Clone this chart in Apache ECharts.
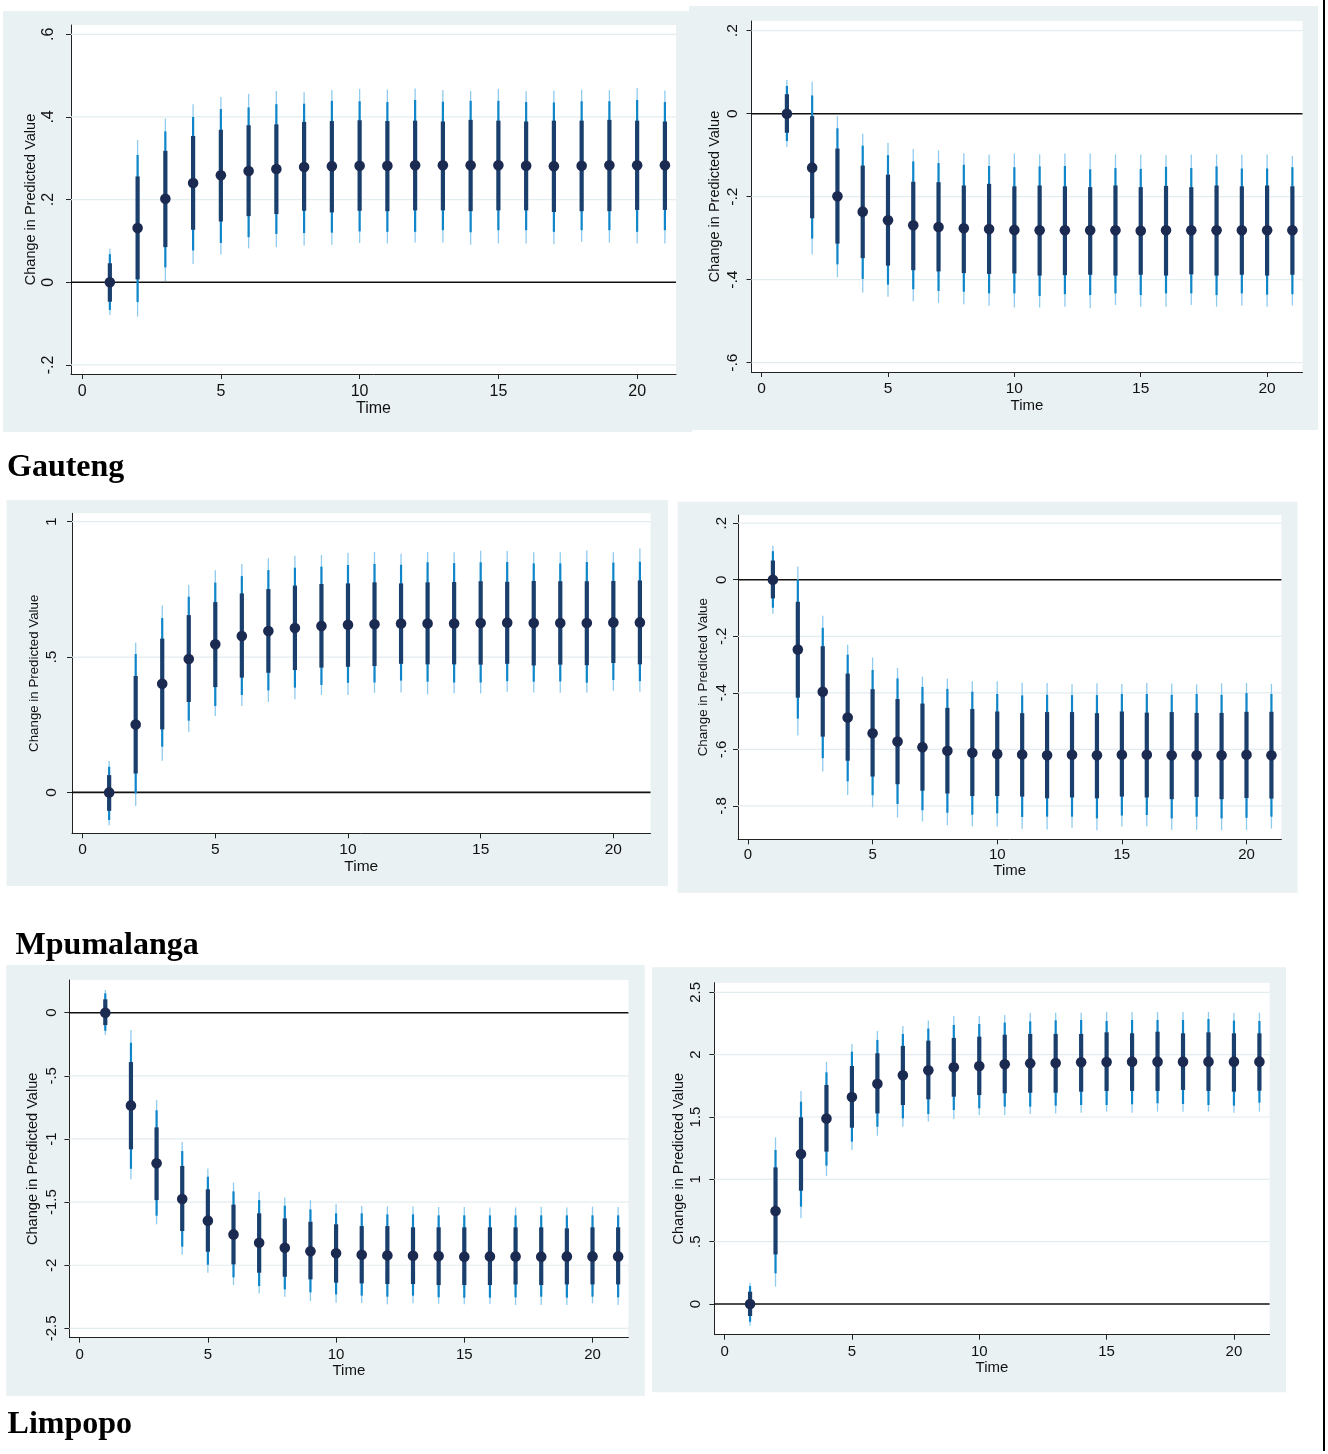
<!DOCTYPE html>
<html>
<head>
<meta charset="utf-8">
<script src="https://cdn.jsdelivr.net/npm/echarts@6/dist/echarts.min.js"></script>
<style>
html,body{margin:0;padding:0;background:#fff;}
#chart{width:1328px;height:1454px;}
</style>
</head>
<body>
<div id="chart"></div>
<script>
// ---------- data ----------
const periods = [1,2,3,4,5,6,7,8,9,10,11,12,13,14,15,16,17,18,19,20,21];
const xTicks = [0,5,10,15,20];

// Gauteng, left panel
const gautengLeftEst = [0,.131,.202,.240,.259,.269,.274,.279,.281,.282,.282,.283,.283,.283,.283,.282,.281,.282,.283,.283,.283];
const gautengLeftInner = [[-.047,.046],[.007,.256],[.085,.318],[.127,.354],[.147,.369],[.160,.380],[.165,.382],[.173,.388],[.169,.390],[.173,.392],[.172,.390],[.174,.391],[.174,.389],[.172,.393],[.174,.391],[.174,.389],[.170,.391],[.172,.391],[.172,.393],[.175,.391],[.175,.389]];
const gautengLeftMid = [[-.067,.068],[-.048,.308],[.036,.365],[.077,.400],[.095,.419],[.109,.423],[.117,.431],[.119,.432],[.120,.439],[.123,.438],[.122,.436],[.122,.441],[.126,.437],[.121,.439],[.126,.439],[.126,.436],[.122,.435],[.126,.438],[.126,.438],[.122,.441],[.126,.436]];
const gautengLeftOuter = [[-.079,.081],[-.083,.344],[.003,.396],[.044,.431],[.067,.448],[.082,.456],[.085,.463],[.089,.460],[.091,.465],[.095,.468],[.094,.466],[.096,.469],[.096,.465],[.091,.463],[.094,.468],[.094,.462],[.092,.464],[.098,.466],[.096,.465],[.094,.470],[.094,.464]];
const gautengLeftTicks = [-0.2,0,0.2,0.4,0.6];

// Gauteng, right panel
const gautengRightEst = [0,-.130,-.199,-.236,-.257,-.269,-.273,-.276,-.278,-.280,-.281,-.281,-.281,-.281,-.282,-.281,-.281,-.281,-.281,-.281,-.281];
const gautengRightInner = [[-.046,.047],[-.252,-.006],[-.313,-.084],[-.348,-.125],[-.366,-.147],[-.377,-.164],[-.380,-.165],[-.384,-.173],[-.386,-.169],[-.385,-.175],[-.390,-.173],[-.389,-.175],[-.388,-.177],[-.390,-.173],[-.388,-.177],[-.390,-.174],[-.387,-.177],[-.390,-.173],[-.388,-.175],[-.390,-.173],[-.388,-.175]];
const gautengRightMid = [[-.066,.067],[-.301,.044],[-.363,-.035],[-.398,-.077],[-.412,-.100],[-.423,-.115],[-.427,-.119],[-.429,-.123],[-.433,-.126],[-.433,-.129],[-.439,-.127],[-.435,-.126],[-.437,-.134],[-.433,-.131],[-.437,-.133],[-.433,-.128],[-.433,-.131],[-.437,-.127],[-.433,-.132],[-.436,-.132],[-.435,-.129]];
const gautengRightOuter = [[-.080,.081],[-.339,.077],[-.394,-.006],[-.431,-.048],[-.441,-.070],[-.452,-.085],[-.456,-.088],[-.459,-.095],[-.463,-.098],[-.467,-.096],[-.467,-.098],[-.465,-.096],[-.469,-.096],[-.461,-.098],[-.465,-.098],[-.465,-.100],[-.461,-.098],[-.465,-.098],[-.462,-.098],[-.465,-.098],[-.462,-.102]];
const gautengRightTicks = [-0.6,-0.4,-0.2,0,0.2];

// Mpumalanga, left panel
const mpumalangaLeftEst = [0,.251,.401,.493,.547,.578,.596,.607,.615,.619,.621,.624,.624,.624,.626,.627,.626,.626,.626,.628,.628];
const mpumalangaLeftInner = [[-.068,.064],[.070,.430],[.233,.568],[.334,.655],[.389,.703],[.424,.735],[.442,.751],[.452,.764],[.461,.770],[.464,.772],[.467,.776],[.475,.772],[.473,.776],[.473,.777],[.472,.780],[.475,.778],[.469,.781],[.472,.780],[.470,.780],[.478,.781],[.473,.783]];
const mpumalangaLeftMid = [[-.102,.095],[-.004,.511],[.169,.644],[.265,.723],[.319,.775],[.360,.799],[.377,.821],[.387,.830],[.397,.834],[.405,.840],[.406,.844],[.413,.841],[.409,.850],[.406,.847],[.406,.850],[.411,.851],[.409,.846],[.410,.846],[.405,.851],[.415,.849],[.411,.852]];
const mpumalangaLeftOuter = [[-.121,.116],[-.050,.553],[.117,.690],[.223,.766],[.282,.821],[.319,.844],[.334,.865],[.344,.874],[.360,.877],[.360,.885],[.368,.888],[.369,.882],[.362,.888],[.366,.887],[.365,.893],[.372,.892],[.369,.887],[.368,.887],[.368,.894],[.376,.887],[.372,.901]];
const mpumalangaLeftTicks = [0,0.5,1];

// Mpumalanga, right panel
const mpumalangaRightEst = [0,-.247,-.396,-.487,-.543,-.572,-.592,-.605,-.612,-.616,-.618,-.621,-.619,-.621,-.619,-.619,-.621,-.621,-.621,-.619,-.621];
const mpumalangaRightInner = [[-.066,.068],[-.417,-.078],[-.555,-.235],[-.640,-.332],[-.696,-.387],[-.723,-.422],[-.746,-.438],[-.756,-.453],[-.765,-.457],[-.765,-.466],[-.767,-.472],[-.773,-.468],[-.770,-.468],[-.773,-.472],[-.767,-.466],[-.770,-.470],[-.776,-.468],[-.768,-.471],[-.776,-.471],[-.772,-.467],[-.774,-.467]];
const mpumalangaRightMid = [[-.099,.101],[-.491,.000],[-.631,-.170],[-.713,-.265],[-.762,-.319],[-.793,-.349],[-.815,-.379],[-.824,-.386],[-.831,-.396],[-.826,-.404],[-.839,-.409],[-.838,-.407],[-.838,-.408],[-.844,-.408],[-.834,-.404],[-.832,-.404],[-.844,-.407],[-.838,-.404],[-.844,-.407],[-.842,-.401],[-.838,-.404]];
const mpumalangaRightOuter = [[-.120,.120],[-.551,.047],[-.678,-.127],[-.761,-.230],[-.805,-.275],[-.841,-.312],[-.855,-.343],[-.868,-.350],[-.872,-.359],[-.873,-.359],[-.881,-.364],[-.883,-.365],[-.877,-.370],[-.886,-.366],[-.873,-.369],[-.872,-.365],[-.884,-.367],[-.884,-.370],[-.886,-.366],[-.885,-.365],[-.880,-.368]];
const mpumalangaRightTicks = [-0.8,-0.6,-0.4,-0.2,0,0.2];

// Limpopo, left panel
const limpopoLeftEst = [0,-.734,-1.193,-1.476,-1.647,-1.756,-1.822,-1.861,-1.890,-1.906,-1.917,-1.922,-1.925,-1.927,-1.932,-1.930,-1.930,-1.932,-1.930,-1.930,-1.930];
const limpopoLeftInner = [[-.098,.106],[-1.082,-.391],[-1.484,-.908],[-1.729,-1.214],[-1.893,-1.399],[-1.993,-1.520],[-2.059,-1.589],[-2.091,-1.629],[-2.112,-1.656],[-2.138,-1.676],[-2.144,-1.690],[-2.149,-1.690],[-2.149,-1.700],[-2.157,-1.700],[-2.157,-1.700],[-2.157,-1.700],[-2.152,-1.700],[-2.157,-1.700],[-2.152,-1.708],[-2.152,-1.700],[-2.152,-1.700]];
const limpopoLeftMid = [[-.143,.153],[-1.236,-.238],[-1.608,-.773],[-1.853,-1.096],[-1.996,-1.299],[-2.096,-1.415],[-2.165,-1.484],[-2.191,-1.529],[-2.215,-1.558],[-2.231,-1.589],[-2.241,-1.589],[-2.249,-1.597],[-2.241,-1.597],[-2.254,-1.605],[-2.257,-1.605],[-2.257,-1.605],[-2.254,-1.605],[-2.249,-1.605],[-2.257,-1.605],[-2.249,-1.605],[-2.254,-1.605]];
const limpopoLeftOuter = [[-.177,.180],[-1.320,-.137],[-1.676,-.692],[-1.917,-1.024],[-2.059,-1.233],[-2.157,-1.346],[-2.223,-1.418],[-2.249,-1.463],[-2.284,-1.484],[-2.297,-1.518],[-2.299,-1.531],[-2.310,-1.534],[-2.302,-1.534],[-2.305,-1.539],[-2.310,-1.539],[-2.307,-1.542],[-2.315,-1.542],[-2.315,-1.536],[-2.315,-1.542],[-2.302,-1.536],[-2.315,-1.539]];
const limpopoLeftTicks = [-2.5,-2,-1.5,-1,-0.5,0];

// Limpopo, right panel
const limpopoRightEst = [0,.746,1.203,1.487,1.660,1.767,1.834,1.874,1.898,1.909,1.922,1.930,1.933,1.939,1.941,1.944,1.944,1.944,1.944,1.944,1.944];
const limpopoRightInner = [[-.096,.099],[.398,1.096],[.909,1.497],[1.222,1.757],[1.414,1.909],[1.529,2.011],[1.596,2.070],[1.642,2.112],[1.663,2.134],[1.676,2.144],[1.690,2.160],[1.695,2.166],[1.695,2.166],[1.703,2.166],[1.709,2.179],[1.709,2.171],[1.709,2.184],[1.717,2.171],[1.709,2.179],[1.703,2.171],[1.711,2.171]];
const limpopoRightMid = [[-.142,.144],[.246,1.235],[.781,1.623],[1.110,1.858],[1.302,2.024],[1.422,2.118],[1.489,2.166],[1.524,2.209],[1.556,2.238],[1.570,2.246],[1.583,2.257],[1.583,2.267],[1.591,2.275],[1.596,2.278],[1.596,2.270],[1.602,2.278],[1.610,2.278],[1.604,2.278],[1.596,2.286],[1.591,2.273],[1.615,2.270]];
const limpopoRightOuter = [[-.174,.171],[.139,1.337],[.687,1.709],[1.027,1.941],[1.235,2.086],[1.350,2.190],[1.422,2.230],[1.463,2.273],[1.484,2.310],[1.516,2.310],[1.516,2.318],[1.524,2.337],[1.529,2.337],[1.535,2.337],[1.543,2.342],[1.535,2.342],[1.543,2.342],[1.543,2.342],[1.543,2.342],[1.535,2.337],[1.543,2.337]];
const limpopoRightTicks = [0,0.5,1,1.5,2,2.5];

const regionLabels = ['Gauteng','Mpumalanga','Limpopo'];
const xTitle = 'Time';
const yTitle = 'Change in Predicted Value';

// ---------- layout / style ----------
const BG = '#e9f1f3';
const C_OUTER = '#8fcbee';
const C_MID = '#0e86c9';
const C_INNER = '#1b3f6d';
const C_DOT = '#1b2a50';
const C_GRID = '#e3ecef';
const FONT = '"Liberation Sans", Arial, sans-serif';

const panels = [
  {est:gautengLeftEst, inner:gautengLeftInner, mid:gautengLeftMid, outer:gautengLeftOuter, ticks:gautengLeftTicks,
   grid:[71,25,605,349], ymin:-0.222, ymax:0.6225, bg:[3,11,689,421], tick:16, tname:16, yname:14.5, ylm:14, yng:33, xlm:10, xng:23},
  {est:gautengRightEst, inner:gautengRightInner, mid:gautengRightMid, outer:gautengRightOuter, ticks:gautengRightTicks,
   grid:[751.5,21,551,351], ymin:-0.6224, ymax:0.2234, bg:[689,6,629,424], tick:15.5, tname:15, yname:14.5, ylm:11, yng:29.5, xlm:9, xng:24},
  {est:mpumalangaLeftEst, inner:mpumalangaLeftInner, mid:mpumalangaLeftMid, outer:mpumalangaLeftOuter, ticks:mpumalangaLeftTicks,
   grid:[72,513.3,578.5,320], ymin:-0.151, ymax:1.031, bg:[6.5,500,661.5,386], tick:15.5, tname:15.5, yname:13.3, ylm:12, yng:31, xlm:8.5, xng:22},
  {est:mpumalangaRightEst, inner:mpumalangaRightInner, mid:mpumalangaRightMid, outer:mpumalangaRightOuter, ticks:mpumalangaRightTicks,
   grid:[738,515,543.4,324.3], ymin:-0.918, ymax:0.229, bg:[677.6,501.7,620,391], tick:15, tname:15, yname:13.4, ylm:9, yng:28, xlm:8.5, xng:22},
  {est:limpopoLeftEst, inner:limpopoLeftInner, mid:limpopoLeftMid, outer:limpopoLeftOuter, ticks:limpopoLeftTicks,
   grid:[69.4,980,559,357.7], ymin:-2.574, ymax:0.259, bg:[6.3,965,638.5,431], tick:15, tname:15, yname:14.6, ylm:10, yng:28.5, xlm:10, xng:24},
  {est:limpopoRightEst, inner:limpopoRightInner, mid:limpopoRightMid, outer:limpopoRightOuter, ticks:limpopoRightTicks,
   grid:[714.4,982.7,555.2,352], ymin:-0.246, ymax:2.577, bg:[652,967.3,634,425], tick:15, tname:15, yname:14.5, ylm:11, yng:27.7, xlm:9.5, xng:25}
];

function fmtY(v){
  if (v === 0) return '0';
  return String(v).replace('0.', '.');
}

function renderCI(params, api){
  const t = api.value(0);
  const pt = v => api.coord([t, v]);
  const o1 = pt(api.value(1)), o2 = pt(api.value(2));
  const m1 = pt(api.value(3)), m2 = pt(api.value(4));
  const k1 = pt(api.value(5)), k2 = pt(api.value(6));
  const e = pt(api.value(7));
  return {type:'group', children:[
    {type:'line', shape:{x1:o1[0],y1:o1[1],x2:o2[0],y2:o2[1]}, style:{stroke:C_OUTER, lineWidth:1.3}},
    {type:'line', shape:{x1:m1[0],y1:m1[1],x2:m2[0],y2:m2[1]}, style:{stroke:C_MID, lineWidth:2.2}},
    {type:'line', shape:{x1:k1[0],y1:k1[1],x2:k2[0],y2:k2[1]}, style:{stroke:C_INNER, lineWidth:4.2}},
    {type:'circle', shape:{cx:e[0], cy:e[1], r:5.3}, style:{fill:C_DOT}}
  ]};
}

function hLine(color, width){
  return function(params, api){
    const cs = params.coordSys;
    const y = api.coord([0, api.value(1)])[1];
    return {type:'line', shape:{x1:cs.x, y1:y, x2:cs.x+cs.width, y2:y}, style:{stroke:color, lineWidth:width}};
  };
}

const grids = [], xAxes = [], yAxes = [], series = [], graphics = [];

panels.forEach((p, i) => {
  graphics.push({type:'rect', z:-10, shape:{x:p.bg[0], y:p.bg[1], width:p.bg[2], height:p.bg[3]}, style:{fill:BG}});
  grids.push({left:p.grid[0], top:p.grid[1], width:p.grid[2], height:p.grid[3], show:true, backgroundColor:'#ffffff', borderWidth:0, containLabel:false});
  xAxes.push({
    gridIndex:i, type:'value', min:-0.4, max:21.4,
    name:xTitle, nameLocation:'middle', nameGap:p.xng,
    nameTextStyle:{fontSize:p.tname, color:'#111', fontFamily:FONT},
    axisLine:{show:true, onZero:false, lineStyle:{color:'#222', width:1}},
    axisTick:{show:true, length:5, customValues:xTicks, lineStyle:{color:'#222', width:1}},
    axisLabel:{show:true, customValues:xTicks, margin:p.xlm, fontSize:p.tick, color:'#111', fontFamily:FONT},
    splitLine:{show:false}
  });
  yAxes.push({
    gridIndex:i, type:'value', min:p.ymin, max:p.ymax,
    name:yTitle, nameLocation:'middle', nameRotate:90, nameGap:p.yng,
    nameTextStyle:{fontSize:p.yname, color:'#111', fontFamily:FONT},
    axisLine:{show:true, onZero:false, lineStyle:{color:'#222', width:1}},
    axisTick:{show:true, length:5, customValues:p.ticks, lineStyle:{color:'#222', width:1}},
    axisLabel:{show:true, customValues:p.ticks, rotate:90, margin:p.ylm, fontSize:p.tick, color:'#111', fontFamily:FONT, formatter:fmtY},
    splitLine:{show:false}
  });
  // gridlines at y ticks
  series.push({type:'custom', xAxisIndex:i, yAxisIndex:i, silent:true, z:1,
    data:p.ticks.filter(v => v !== 0).map(v => [0, v]), encode:{x:0, y:1},
    renderItem:hLine(C_GRID, 1.2)});
  // zero reference line
  series.push({type:'custom', xAxisIndex:i, yAxisIndex:i, silent:true, z:2,
    data:[[0, 0]], encode:{x:0, y:1}, renderItem:hLine('#111', 1.6)});
  // estimates with three interval bands
  series.push({type:'custom', xAxisIndex:i, yAxisIndex:i, silent:true, z:3,
    data:periods.map((t, k) => [t, p.outer[k][0], p.outer[k][1], p.mid[k][0], p.mid[k][1], p.inner[k][0], p.inner[k][1], p.est[k]]),
    encode:{x:0, y:[1,2,3,4,5,6,7]},
    renderItem:renderCI});
});

const labelPos = [[7,468],[15.6,946],[7.6,1425]];
regionLabels.forEach((t, i) => {
  graphics.push({type:'text', x:labelPos[i][0], y:labelPos[i][1], z:5,
    style:{text:t, font:'bold 32px "Liberation Serif", "Times New Roman", serif', fill:'#000', verticalAlign:'middle', align:'left'}});
});
graphics.push({type:'line', z:5, shape:{x1:1324, y1:0, x2:1324, y2:1451}, style:{stroke:'#000', lineWidth:2}});

const chart = echarts.init(document.getElementById('chart'), null, {renderer:'canvas'});
chart.setOption({
  animation:false,
  backgroundColor:'#ffffff',
  grid:grids,
  xAxis:xAxes,
  yAxis:yAxes,
  series:series,
  graphic:{elements:graphics}
});
</script>
</body>
</html>
